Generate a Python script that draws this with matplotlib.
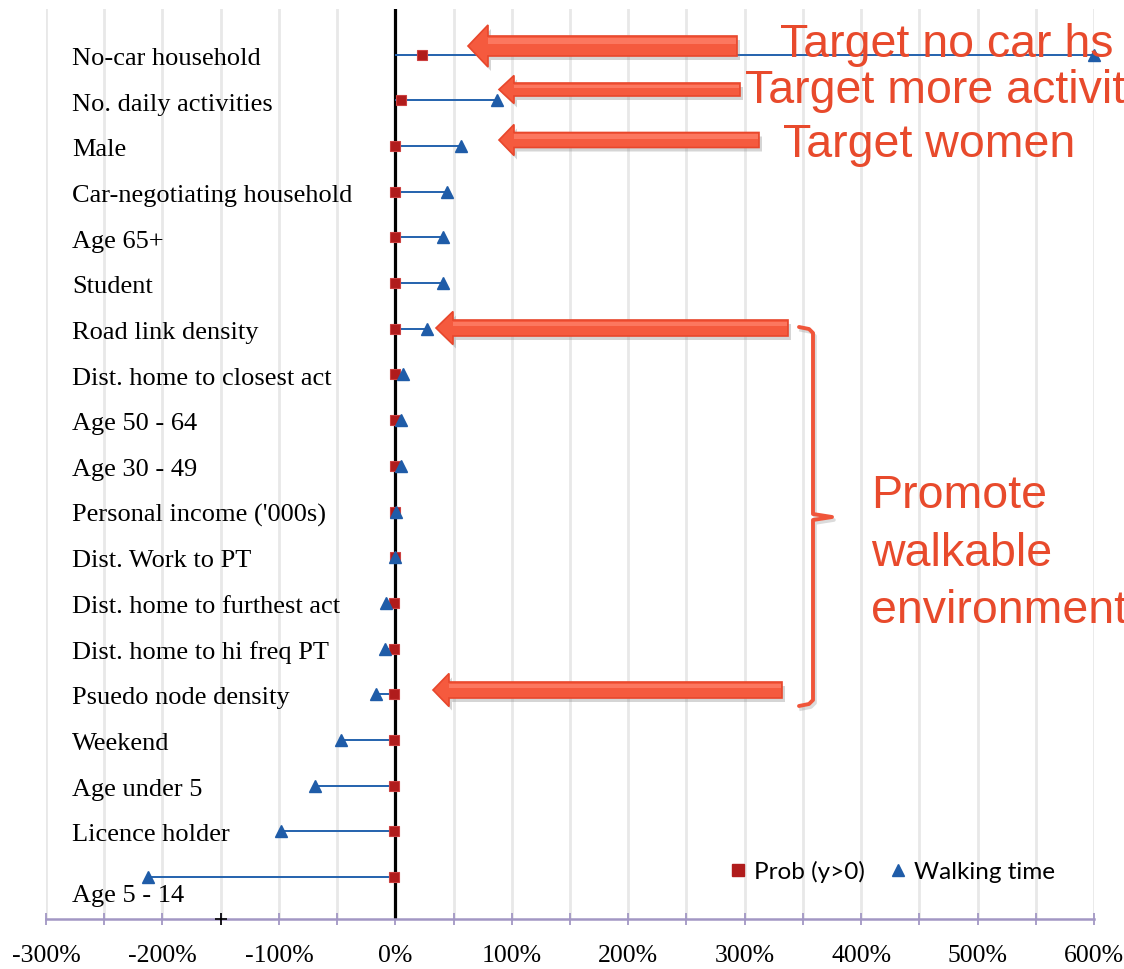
import matplotlib.pyplot as plt
from matplotlib.lines import Line2D
from matplotlib.patches import Polygon
import numpy as np

labels = ["No-car household", "No. daily activities", "Male",
          "Car-negotiating household", "Age 65+", "Student",
          "Road link density", "Dist. home to closest act", "Age 50 - 64",
          "Age 30 - 49", "Personal income ('000s)", "Dist. Work to PT",
          "Dist. home to furthest act", "Dist. home to hi freq PT",
          "Psuedo node density", "Weekend", "Age under 5", "Licence holder",
          "Age 5 - 14"]
walk_time = [600, 87, 56, 44, 41, 41, 27, 7, 5, 4.5, 0.5, 0, -8, -9, -17,
             -47, -69, -98, -212]
prob_pos = [23, 5, 0, 0, 0, 0, 0, 0, 0, 0, 0, 0, -1, -1, -1, -1, -1, -1, -1]
x_ticks = list(range(-300, 601, 100))
x_ticklabels = [f"{v}%" for v in x_ticks]

RED = "#b01c1c"
BLUE = "#1f5ca8"
ORANGE = "#e84a2c"
AXIS = "#a297c4"

W, H = 1124, 970
fig = plt.figure(figsize=(W / 100, H / 100), dpi=100)
ax = fig.add_axes([46 / W, 50 / H, 1048 / W, 910 / H])

ypos = np.arange(len(labels))
ax.set_xlim(-300, 600)
ax.set_ylim(18.92, -1.0)

ax.set_xticks(x_ticks)
ax.set_xticklabels(x_ticklabels, family="Liberation Serif", fontsize=18.5)
ax.set_xticks(range(-300, 601, 50), minor=True)
ax.grid(True, axis="x", which="both", color="#e8e8e8", lw=2, zorder=0)
ax.tick_params(axis="x", which="both", direction="inout", length=8,
               color=AXIS, width=1.3, pad=14)
ax.set_yticks([])
for side in ("top", "left", "right"):
    ax.spines[side].set_visible(False)
ax.spines["bottom"].set_color(AXIS)
ax.spines["bottom"].set_linewidth(1.8)

ax.axvline(0, color="black", lw=2.3, zorder=2)
ax.hlines(ypos, 0, walk_time, color="#2462ad", lw=1.4, zorder=3)
ax.plot(prob_pos, ypos, "s", ls="none", ms=7.5, mfc=RED, mec="#cc4040",
        mew=0.8, zorder=4, clip_on=False)
ax.plot(walk_time, ypos, "^", ls="none", ms=9, color=BLUE, zorder=5,
        clip_on=False)

ytrans = ax.get_yaxis_transform()
for i, lab in enumerate(labels):
    y = i + 0.4 if lab == "Age 5 - 14" else i + 0.07
    ax.text(26 / 1048, y, lab, transform=ytrans, va="center", ha="left",
            family="Liberation Serif", fontsize=19, color="black", zorder=6)

handles = [Line2D([], [], marker="s", ls="none", ms=8, color=RED),
           Line2D([], [], marker="^", ls="none", ms=8, color=BLUE)]
fig.legend(handles, ["Prob (y>0)", "Walking time"], ncol=2, frameon=False,
           loc="center left", bbox_to_anchor=(708 / W, 1 - 872 / H),
           prop={"family": "Lato", "size": 17.5}, handlelength=0.7,
           handletextpad=0.3, columnspacing=1.0)

# annotation layer in pixel coordinates
ov = fig.add_axes([0, 0, 1, 1], zorder=10)
ov.set_xlim(0, W)
ov.set_ylim(H, 0)
ov.axis("off")
ov.patch.set_alpha(0)


def left_arrow(tip, yc, tail, head_len, head_hw, shaft_hw):
    pts = [(tip, yc), (tip + head_len, yc - head_hw),
           (tip + head_len, yc - shaft_hw), (tail, yc - shaft_hw),
           (tail, yc + shaft_hw), (tip + head_len, yc + shaft_hw),
           (tip + head_len, yc + head_hw)]
    shadow = [(x + 3, y + 4) for x, y in pts]
    ov.add_patch(Polygon(shadow, closed=True, fc="#888888", ec="none",
                         alpha=0.35))
    ov.add_patch(Polygon(pts, closed=True, fc="#f55a3e", ec="#e8472c",
                         lw=1.2))
    # lighter top highlight on the shaft
    ov.add_patch(Polygon([(tip + head_len, yc - shaft_hw + 1.5),
                          (tail - 1.5, yc - shaft_hw + 1.5),
                          (tail - 1.5, yc - shaft_hw * 0.2),
                          (tip + head_len, yc - shaft_hw * 0.2)],
                         closed=True, fc="#ff7f68", ec="none", alpha=0.8))


left_arrow(468, 47, 737, 20, 21, 10)
left_arrow(499, 90.5, 740, 15, 14, 6.5)
left_arrow(499, 141, 759, 15, 15.5, 7.5)
left_arrow(436, 329, 788, 17, 16.5, 8)
left_arrow(433, 691, 782, 16, 16.5, 8)

# curly bracket
bx = [799, 809, 813, 813, 832, 813, 813, 809, 799]
by = [328, 330, 334, 515, 518, 521, 701, 705, 707]
ov.plot([x + 2 for x in bx], [y + 3 for y in by], color="#999999",
        lw=2.6, alpha=0.35, solid_joinstyle="round")
ov.plot(bx, by, color="#f0553a", lw=2.8, solid_joinstyle="round",
        solid_capstyle="round")

txt = dict(family="Liberation Sans", fontsize=33.5, color=ORANGE,
           va="baseline", ha="left")
ov.text(780, 57, "Target no car hs", **txt)
ov.text(745, 103, "Target more activities", **txt)
ov.text(783, 157, "Target women", **txt)
ov.text(871, 508, "Promote", **txt)
ov.text(871, 566, "walkable", **txt)
ov.text(871, 623, "environment", **txt)

ov.plot([221], [920], marker="+", color="black", ms=8, mew=1.2)

fig.savefig("out.png", dpi=100)
